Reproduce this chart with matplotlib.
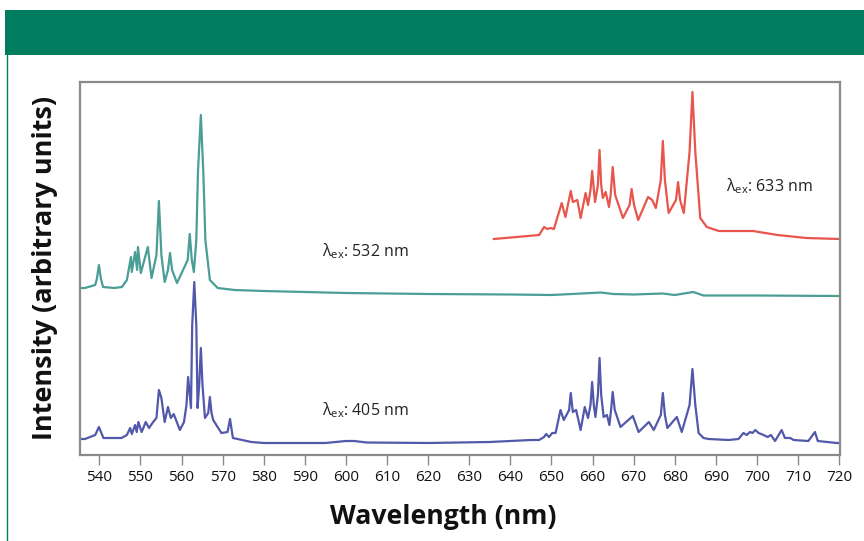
import matplotlib
matplotlib.use("Agg")
import matplotlib.pyplot as plt
from matplotlib.patches import Rectangle
from matplotlib.lines import Line2D

plt.rcParams['font.family'] = ['Open Sans', 'DejaVu Sans']
plt.rcParams['mathtext.fontset'] = 'custom'
plt.rcParams['mathtext.rm'] = 'Open Sans'
plt.rcParams['mathtext.it'] = 'Open Sans'

# ---------------- data (wavelength nm, intensity arbitrary units incl. offsets) -------------
wl_532 = [535.3, 536.5, 539.0, 539.4, 539.9, 540.4, 540.9, 543.6, 545.5, 546.7, 547.7, 547.9,
          548.7, 549.2, 549.4, 550.1, 551.8, 552.7, 553.9, 554.5, 555.1, 555.9, 556.7, 557.2,
          557.7, 558.9, 561.5, 562.0, 562.5, 563.0, 563.6, 564.0, 564.7, 565.3, 565.8, 566.9,
          568.8, 572.9, 580, 600, 620, 640, 650, 655, 662, 665, 670,
          677, 680, 684.5, 687, 700, 720.2]
int_532 = [167, 167, 170, 176, 190, 176, 168, 167, 168, 175, 198, 183,
           203, 185, 208, 182, 208, 177, 200, 254, 200, 173, 185, 202,
           185, 172, 195, 221, 195, 183, 215, 283, 340, 283, 215, 175,
           167, 165, 164, 162, 161, 160.5, 160, 161, 162.5, 161, 160.5,
           161.5, 160, 163, 159.5, 159.5, 159]

wl_405 = [535.3, 536.5, 539.0, 539.9, 541.0, 545.4, 546.7, 547.5, 547.9, 548.7, 549.1, 549.5,
          550.3, 551.3, 552.1, 553.1, 553.9, 554.5, 555.1, 555.9, 556.7, 557.4, 558.1, 559.6,
          560.6, 561.2, 561.6, 562.3, 562.6, 563.1, 563.6, 563.9, 564.3, 564.7, 565.1, 565.7,
          566.5, 566.9, 567.3, 567.7, 569.7,
          571.2, 571.8, 572.5, 577.0, 580, 595, 600, 602, 605, 620, 635, 645,
          647.0, 648.2, 648.7, 649.4, 650.2, 651.0, 652.2, 653.0, 654.3, 654.7, 655.2, 656.0,
          657.1, 658.1, 658.9, 659.5, 659.9, 660.3, 660.7, 661.3, 661.7, 662.1, 662.7, 663.5,
          664.1, 664.5, 664.9, 665.4, 666.8, 669.8, 671.2, 673.7, 674.9, 676.6, 677.1, 677.6,
          678.2, 680.5, 681.7, 683.6, 684.3, 685.0, 685.8, 687.0, 688.2,
          693.1, 695.5, 696.7, 697.5, 698.3, 698.9, 699.6, 700.4, 701.6, 702.6, 703.4, 704.4,
          706.0, 706.8, 708.1, 708.9, 712.5, 714.1, 714.8, 719.4, 720.2]
int_405 = [16, 16, 20, 28, 17, 17, 20, 27, 21, 30, 23, 33,
           23, 33, 27, 33, 37, 65, 57, 33, 48, 37, 41, 25,
           33, 50, 78, 47, 130, 173, 130, 47, 70, 107, 70, 37,
           42, 58, 42, 35, 22,
           23, 36, 17, 13, 12, 12, 14, 14, 12.5, 12, 13, 15,
           15, 18, 21, 18, 22, 22, 45, 35, 45, 62, 43, 45,
           25, 48, 37, 50, 73, 50, 38, 60, 97, 60, 38, 40,
           30, 45, 63, 45, 28, 39, 23, 33, 25, 40, 62, 40,
           27, 38, 23, 50, 86, 50, 22, 17, 16,
           15, 16, 22, 20, 23, 22, 25, 22, 20, 18, 20, 14,
           25, 17, 17, 15, 14, 23, 14, 12, 12]

wl_633 = [636.0, 647.0, 648.2, 649.0, 649.8, 650.6, 652.5, 653.4, 654.7, 655.2, 656.3, 657.1,
          658.3, 658.9, 659.5, 659.9, 660.6, 661.3, 661.7, 662.1, 662.5, 663.2, 664.0, 664.4,
          664.9, 665.5, 667.4, 669.0, 669.5, 670.1, 671.1, 673.5, 674.5, 675.4, 676.6, 677.1,
          677.6, 678.5, 680.3, 680.8, 681.3, 682.2, 683.6, 684.3, 685.0, 686.2, 687.8,
          690.7, 699, 705, 712, 720.2]
int_633 = [216, 220, 228, 226, 227, 226, 252, 238, 264, 253, 255, 237,
           262, 250, 265, 284, 253, 270, 305, 270, 257, 263, 248, 260,
           288, 260, 237, 250, 266, 250, 235, 258, 255, 247, 275, 314,
           275, 242, 255, 273, 255, 242, 303, 363, 303, 237, 228,
           224, 224, 220, 217, 216]

xticks = list(range(540, 721, 10))
labels = [
    (594.1, 204, r'λ$_{\rm ex}$: 532 nm'),
    (594.1, 45, r'λ$_{\rm ex}$: 405 nm'),
    (692.4, 269, r'λ$_{\rm ex}$: 633 nm'),
]

# ---------------- figure ----------------
W, H = 864, 541
fig = plt.figure(figsize=(W / 100, H / 100), dpi=100)
fig.patch.set_facecolor('white')

# green header band and left border line
fig.patches.append(Rectangle((5 / W, 1 - 55 / H), 1 - 5 / W, 45 / H, transform=fig.transFigure,
                             facecolor='#007d5e', edgecolor='none', zorder=0))
fig.lines.append(Line2D([7 / W, 7 / W], [0, 1 - 55 / H], transform=fig.transFigure,
                        color='#007d5e', lw=1.0))

ax = fig.add_axes([80 / W, 1 - 455 / H, 760 / W, 373 / H])
ax.plot(wl_532, int_532, color='#4a9e96', lw=1.6, solid_joinstyle='round')
ax.plot(wl_405, int_405, color='#5258aa', lw=1.6, solid_joinstyle='round')
ax.plot(wl_633, int_633, color='#e8554c', lw=1.6, solid_joinstyle='round')

ax.set_xlim(535.3, 720.2)
ax.set_ylim(0, 373)
ax.set_xticks(xticks)
ax.set_yticks([])
ax.tick_params(axis='x', direction='out', length=7, width=1.0, color='#8a8a8a',
               labelsize=11, pad=4, labelcolor='#111111')
for s in ax.spines.values():
    s.set_color('#8a8a8a')
    s.set_linewidth(1.6)

for x, y, t in labels:
    ax.text(x, y, t, fontsize=11.5, ha='left', va='center', color='#222222')

fig.text(443 / W, 1 - 517 / H, 'Wavelength (nm)', ha='center', va='center',
         fontsize=19.2, fontweight='bold', color='#111111')
fig.text(45 / W, 1 - 268 / H, 'Intensity (arbitrary units)', ha='center', va='center',
         rotation=90, fontsize=19.5, fontweight='bold', color='#111111')

fig.savefig('out.png', dpi=100)
